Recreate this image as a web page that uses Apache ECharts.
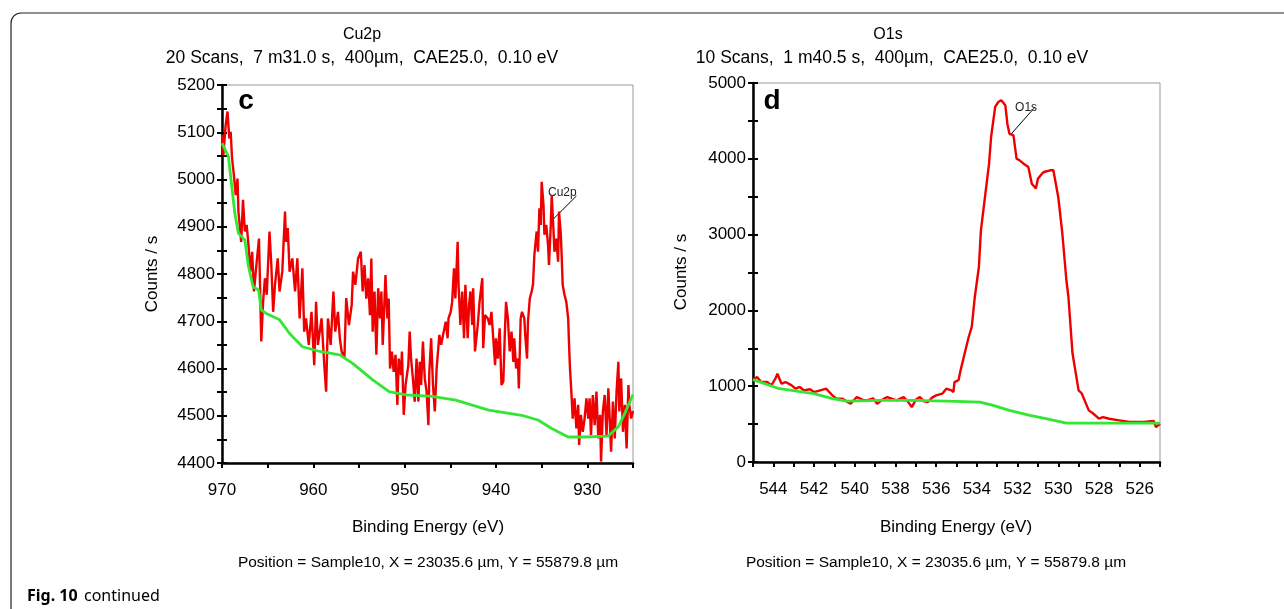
<!DOCTYPE html>
<html>
<head>
<meta charset="utf-8">
<script src="https://cdn.jsdelivr.net/npm/echarts@6/dist/echarts.min.js"></script>
<style>
html, body { margin: 0; padding: 0; background: #fff; }
#xpsChart { width: 1284px; height: 609px; }
</style>
</head>
<body>
<div id="xpsChart"></div>
<script>
// Cu2p scan (panel c): [binding energy eV, counts/s]
const cuSignal = [
  [970.0,5094],[969.85,5052],[969.6,5115],[969.4,5144],[969.2,5087],[969.05,5101],[968.9,5045],[968.7,5010],
  [968.5,4967],[968.3,5002],[968.2,4932],[968.0,4890],[967.9,4868],[967.7,4957],[967.5,4890],[967.3,4904],
  [967.1,4861],[966.9,4805],[966.7,4847],[966.5,4763],[966.2,4826],[965.95,4875],[965.7,4657],[965.5,4741],
  [965.3,4791],[965.1,4756],[964.8,4890],[964.6,4819],[964.4,4720],[964.2,4777],[963.9,4833],[963.7,4763],
  [963.4,4805],[963.1,4932],[963.0,4868],[962.8,4897],[962.6,4805],[962.3,4833],[962.0,4763],[961.75,4833],
  [961.5,4706],[961.2,4812],[961.0,4678],[960.8,4706],[960.5,4650],[960.2,4720],[959.9,4607],[959.7,4741],
  [959.5,4650],[959.1,4706],[958.8,4607],[958.6,4551],[958.4,4706],[958.1,4650],[957.8,4763],[957.6,4678],
  [957.3,4720],[957.1,4664],[956.9,4636],[956.6,4622],[956.4,4749],[956.1,4692],[955.8,4734],[955.65,4805],
  [955.4,4777],[955.1,4833],[954.8,4847],[954.6,4763],[954.4,4819],[954.2,4748],[954.0,4791],[953.8,4713],
  [953.65,4833],[953.5,4678],[953.3,4763],[953.1,4629],[952.9,4770],[952.7,4706],[952.55,4763],[952.4,4650],
  [952.1,4798],[951.9,4706],[951.75,4748],[951.6,4600],[951.4,4636],[951.2,4593],[951.0,4629],[950.8,4523],
  [950.65,4621],[950.4,4586],[950.3,4636],[950.1,4502],[949.9,4565],[949.6,4607],[949.45,4678],[949.3,4621],
  [949.1,4579],[948.9,4530],[948.7,4621],[948.5,4530],[948.35,4614],[948.2,4565],[948.0,4657],[947.8,4579],
  [947.6,4551],[947.4,4480],[947.3,4593],[947.1,4664],[946.9,4565],[946.7,4509],[946.5,4600],[946.35,4636],
  [946.2,4671],[946.0,4650],[945.8,4671],[945.5,4699],[945.3,4664],[945.2,4706],[944.96,4720],[944.8,4741],
  [944.6,4812],[944.45,4748],[944.2,4868],[944.1,4777],[943.9,4692],[943.7,4763],[943.5,4664],[943.35,4777],
  [943.1,4664],[942.95,4734],[942.8,4763],[942.6,4692],[942.5,4770],[942.3,4636],[942.0,4692],[941.8,4741],
  [941.5,4791],[941.4,4643],[941.2,4713],[940.9,4706],[940.7,4692],[940.5,4720],[940.3,4664],[940.1,4607],
  [940.0,4664],[939.8,4621],[939.6,4685],[939.4,4565],[939.2,4572],[939.05,4664],[938.9,4741],[938.7,4706],
  [938.5,4636],[938.3,4678],[938.1,4614],[938.0,4664],[937.8,4600],[937.6,4621],[937.5,4558],[937.3,4706],
  [937.15,4720],[936.9,4706],[936.8,4671],[936.6,4621],[936.5,4699],[936.3,4748],[936.1,4763],[935.95,4777],
  [935.8,4840],[935.7,4861],[935.55,4890],[935.4,4847],[935.25,4939],[935.1,4904],[935.0,4995],[934.8,4946],
  [934.7,4883],[934.5,4904],[934.3,4861],[934.2,4819],[934.0,4904],[933.9,4967],[933.7,4890],[933.6,4847],
  [933.4,4875],[933.2,4826],[933.1,4932],[932.9,4883],[932.8,4833],[932.7,4777],[932.5,4756],[932.3,4741],
  [932.1,4706],[932.0,4650],[931.9,4600],[931.75,4551],[931.6,4494],[931.4,4537],[931.2,4473],[931.0,4523],
  [930.9,4438],[930.7,4502],[930.5,4466],[930.3,4494],[930.1,4537],[929.9,4494],[929.75,4537],[929.6,4459],
  [929.4,4544],[929.2,4480],[929.0,4551],[928.8,4452],[928.6,4502],[928.5,4403],[928.3,4509],[928.1,4544],
  [927.9,4459],[927.7,4558],[927.55,4494],[927.4,4424],[927.2,4530],[927.0,4452],[926.8,4551],[926.6,4614],
  [926.5,4509],[926.3,4579],[926.1,4466],[925.9,4523],[925.7,4431],[925.5,4565],[925.4,4523],[925.2,4494],
  [925.0,4510]
];
const cuBackground = [
  [970.0,5077],[969.3,5049],[968.6,4929],[968.2,4886],[967.5,4872],[967.1,4816],[966.6,4773],[966.0,4766],
  [965.7,4724],[965.2,4717],[963.7,4703],[962.6,4674],[961.2,4646],[959.3,4636],[957.1,4629],[955.7,4611],
  [953.5,4576],[951.7,4551],[949.9,4544],[947.0,4541],[944.4,4533],[940.8,4512],[937.2,4501],[935.4,4491],
  [933.9,4473],[932.1,4455],[930.3,4455],[927.7,4457],[926.6,4477],[925.9,4505],[925.0,4545]
];
// O1s scan (panel d)
const oSignal = [
  [545.0,1077],[544.8,1121],[544.6,1055],[544.3,1055],[544.1,1011],[543.9,1099],[543.8,1165],[543.6,1033],
  [543.4,1055],[543.1,1011],[542.9,967],[542.7,990],[542.5,945],[542.2,960],[542.0,923],[541.7,945],[541.4,967],[541.1,879],
  [540.9,835],[540.6,835],[540.4,800],[540.2,769],[539.9,857],[539.6,820],[539.4,813],[539.1,840],[538.9,769],[538.6,830],[538.4,857],[537.95,813],
  [537.6,857],[537.4,800],[537.2,725],[537.0,820],[536.8,857],[536.6,800],[536.4,791],[536.2,850],[536.0,879],[535.7,901],[535.5,967],[535.25,945],
  [535.15,924],[535.1,1055],[534.9,1079],[534.8,1209],[534.6,1431],[534.4,1649],[534.25,1782],[534.1,2177],
  [533.9,2573],[533.8,3056],[533.6,3496],[533.4,3936],[533.3,4288],[533.1,4684],[532.95,4749],[532.8,4772],
  [532.6,4705],[532.5,4463],[532.4,4331],[532.2,4310],[532.05,4002],[531.9,3980],[531.7,3936],[531.47,3892],
  [531.3,3672],[531.1,3607],[531.0,3738],[530.8,3804],[530.7,3826],[530.4,3848],[530.24,3848],[530.0,3496],
  [529.8,3018],[529.6,2398],[529.5,2177],[529.3,1434],[529.0,945],[528.85,907],[528.5,681],[528.3,643],
  [528.0,571],[527.8,593],[527.5,571],[527.0,549],[526.5,527],[525.8,527],[525.3,540],[525.2,461],[525.0,505]
];
const oBackground = [
  [545.0,1086],[543.7,967],[542.0,901],[541.1,835],[540.4,804],[538.8,813],[537.1,813],[535.0,800],
  [533.85,791],[533.2,747],[532.4,681],[531.4,615],[530.6,571],[529.6,514],[527.3,514],[525.0,514]
];

const fontName = "Liberation Sans";

const xAxisFor = (grid, min, max, step, labelStep) => ({
  type: "value", gridIndex: grid, min: min, max: max, interval: step, inverse: true,
  axisLine: { onZero: false, lineStyle: { color: "#000", width: 2.5 } },
  axisTick: { length: 5, lineStyle: { color: "#000", width: 2 } },
  axisLabel: {
    margin: 19, color: "#000", fontFamily: fontName, fontSize: 17,
    formatter: v => (v % labelStep === 0 ? String(v) : "")
  },
  splitLine: { show: false }
});

const yAxisFor = (grid, min, max, step, labelStep, inside) => ({
  type: "value", gridIndex: grid, min: min, max: max, interval: step, position: "left",
  axisLine: { show: !inside, onZero: false, lineStyle: { color: "#000", width: 2.5 } },
  axisTick: { inside: inside, length: 5, lineStyle: { color: "#000", width: 2 } },
  axisLabel: {
    show: !inside, margin: 7, color: "#000", fontFamily: fontName, fontSize: 17,
    formatter: v => (v % labelStep === 0 ? String(v) : "")
  },
  splitLine: { show: false }
});

const lineSeries = (x, y, data, color, width) => ({
  type: "line", xAxisIndex: x, yAxisIndex: y, data: data, showSymbol: false,
  silent: true, animation: false, lineStyle: { color: color, width: width }
});

const label = (text, x, y, size, extra) => ({
  type: "text", x: x, y: y, silent: true,
  style: Object.assign({ text: text, fill: "#000", font: size + "px " + fontName,
    textAlign: "center", textVerticalAlign: "middle" }, extra || {})
});

const drawChart = () => {
  let myChart = echarts.init(document.getElementById("xpsChart"));
  let option = {
    backgroundColor: "#fff",
    animation: false,
    grid: [
      { left: 222, top: 85, width: 411, height: 378, show: true, borderColor: "#999", borderWidth: 1 },
      { left: 753, top: 83, width: 407, height: 379, show: true, borderColor: "#999", borderWidth: 1 }
    ],
    xAxis: [xAxisFor(0, 925, 970, 5, 10), xAxisFor(1, 525, 545, 1, 2)],
    yAxis: [
      yAxisFor(0, 4400, 5200, 50, 100, false), yAxisFor(0, 4400, 5200, 50, 100, true),
      yAxisFor(1, 0, 5000, 500, 1000, false), yAxisFor(1, 0, 5000, 500, 1000, true)
    ],
    series: [
      lineSeries(0, 0, cuSignal, "#ee0000", 2.4),
      lineSeries(0, 0, cuBackground, "#33e633", 2.8),
      lineSeries(1, 2, oSignal, "#ee0000", 2.4),
      lineSeries(1, 2, oBackground, "#33e633", 2.8)
    ],
    graphic: [
      { type: "rect", shape: { x: 11, y: 13, width: 1300, height: 620, r: 10 }, silent: true,
        style: { fill: "none", stroke: "#222", lineWidth: 1.2 } },
      label("Cu2p", 362, 35, 16),
      label("20 Scans,  7 m31.0 s,  400µm,  CAE25.0,  0.10 eV", 362, 58, 17.5),
      label("O1s", 888, 35, 16),
      label("10 Scans,  1 m40.5 s,  400µm,  CAE25.0,  0.10 eV", 892, 58, 17.5),
      Object.assign(label("Counts / s", 152, 274, 17), { rotation: Math.PI / 2 }),
      Object.assign(label("Counts / s", 681, 272, 17), { rotation: Math.PI / 2 }),
      label("Binding Energy (eV)", 428, 527, 17),
      label("Binding Energy (eV)", 956, 527, 17),
      label("Position = Sample10, X = 23035.6 µm, Y = 55879.8 µm", 428, 563, 15.5),
      label("Position = Sample10, X = 23035.6 µm, Y = 55879.8 µm", 936, 563, 15.5),
      label("c", 246, 101, 28, { font: "bold 28px " + fontName }),
      label("d", 772, 101, 28, { font: "bold 28px " + fontName }),
      label("Fig. 10", 27, 596, 16, { font: "bold 16px 'Noto Sans'", textAlign: "left" }),
      label("continued", 84, 596, 16, { font: "16px 'Noto Sans'", textAlign: "left" })
    ]
  };
  myChart.setOption(option);

  // peak markers, placed in data coordinates
  const a1 = myChart.convertToPixel({ gridIndex: 0 }, [934.0, 4911]);
  const a2 = myChart.convertToPixel({ gridIndex: 0 }, [931.2, 4965]);
  const b1 = myChart.convertToPixel({ gridIndex: 1 }, [532.37, 4310]);
  const b2 = myChart.convertToPixel({ gridIndex: 1 }, [531.14, 4683]);
  option.graphic.push(
    { type: "line", silent: true, shape: { x1: a1[0], y1: a1[1], x2: a2[0], y2: a2[1] }, style: { stroke: "#000", lineWidth: 1 } },
    label("Cu2p", a2[0] - 14, a2[1] - 3, 12, { fill: "#222" }),
    { type: "line", silent: true, shape: { x1: b1[0], y1: b1[1], x2: b2[0], y2: b2[1] }, style: { stroke: "#000", lineWidth: 1 } },
    label("O1s", b2[0] - 9, b2[1] + 1, 12, { fill: "#222" })
  );
  myChart.setOption({ graphic: option.graphic });
  window.onresize = function() {
    myChart.resize();
  };
};

drawChart();
</script>
</body>
</html>
